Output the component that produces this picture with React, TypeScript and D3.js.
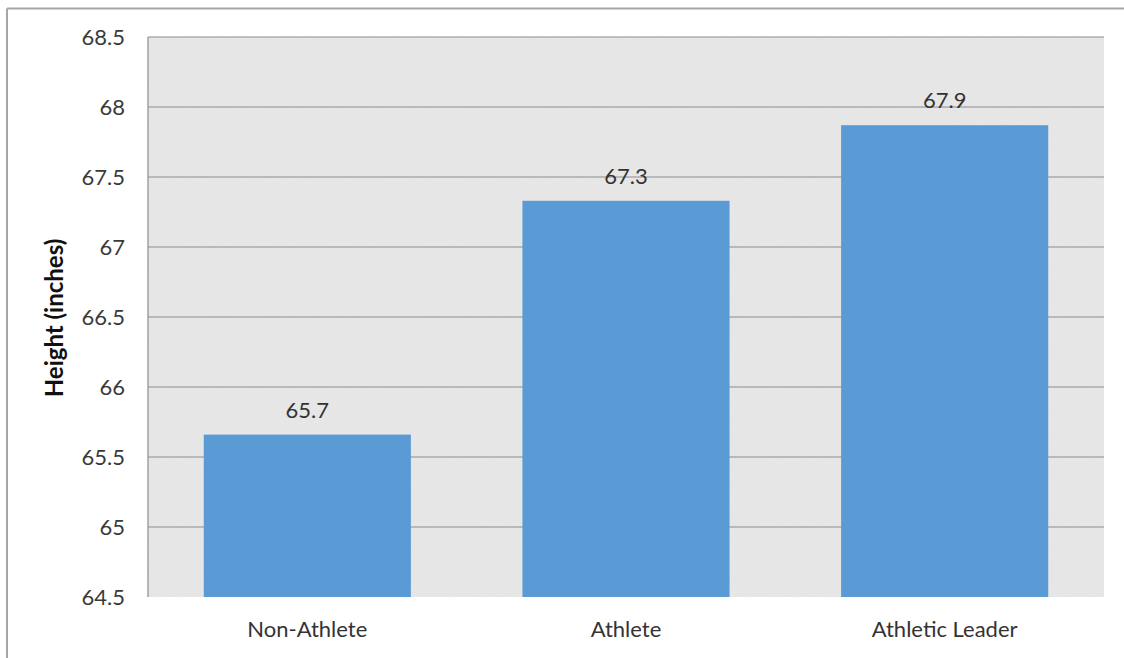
import React from "react";
import * as d3 from "d3";

const categories = ["Non-Athlete", "Athlete", "Athletic Leader"];
const values = [65.66, 67.33, 67.87];
const valueLabels = ["65.7", "67.3", "67.9"];
const yTicks = [64.5, 65, 65.5, 66, 66.5, 67, 67.5, 68, 68.5];
const yTitle = "Height (inches)";

export default function App() {
  const W = 1124, H = 658;
  const left = 148, right = 1104, top = 37, bottom = 597;
  const x = d3.scaleBand<string>().domain(categories).range([left, right]).paddingInner(0.35).paddingOuter(0.175);
  const y = d3.scaleLinear().domain([64.5, 68.5]).range([bottom, top]);
  const font = "Lato, 'Open Sans', sans-serif";
  return (
    <svg width={W} height={H} style={{ position: "absolute", left: 0, top: 0 }}>
      <defs>
        <filter id="noise" x="0" y="0" width="100%" height="100%">
          <feTurbulence type="fractalNoise" baseFrequency="0.9" numOctaves="2" result="t" />
          <feColorMatrix type="matrix" values="0 0 0 0 0.5  0 0 0 0 0.5  0 0 0 0 0.5  0 0 0 0.12 0" />
        </filter>
      </defs>
      <rect x={0} y={0} width={W} height={H} fill="#ffffff" />
      <line x1={7} y1={8.5} x2={W} y2={8.5} stroke="#a6a6a6" strokeWidth={2} />
      <line x1={7} y1={8.5} x2={7} y2={H} stroke="#a6a6a6" strokeWidth={2} />
      <rect x={left} y={top} width={right - left} height={bottom - top} fill="#e9e9e9" />
      <rect x={left} y={top} width={right - left} height={bottom - top} filter="url(#noise)" />
      {yTicks.map((t) => (
        <g key={t}>
          {t > 64.5 && (
            <line x1={left} x2={right} y1={y(t)} y2={y(t)} stroke="#8c8c8c" strokeWidth={1.2} />
          )}
          <text x={left - 23} y={y(t)} dy="0.35em" textAnchor="end" fontFamily={font} fontSize={22} fill="#3a3a3a">
            {String(t)}
          </text>
        </g>
      ))}
      <line x1={left} x2={left} y1={top} y2={bottom} stroke="#8c8c8c" strokeWidth={1.2} />
      {categories.map((c, i) => (
        <g key={c}>
          <rect x={x(c)!} y={y(values[i])} width={x.bandwidth()} height={bottom - y(values[i])} fill="#5b9bd5" />
          <text x={x(c)! + x.bandwidth() / 2} y={y(values[i]) - 17} textAnchor="middle" fontFamily={font} fontSize={22} fill="#333">
            {valueLabels[i]}
          </text>
          <text x={x(c)! + x.bandwidth() / 2} y={637} textAnchor="middle" fontFamily={font} fontSize={22} fill="#333">
            {c}
          </text>
        </g>
      ))}
      <text transform={`translate(63,${(top + bottom) / 2 + 1}) rotate(-90)`} textAnchor="middle" fontFamily={font} fontWeight="bold" fontSize={24} fill="#111">
        {yTitle}
      </text>
    </svg>
  );
}
